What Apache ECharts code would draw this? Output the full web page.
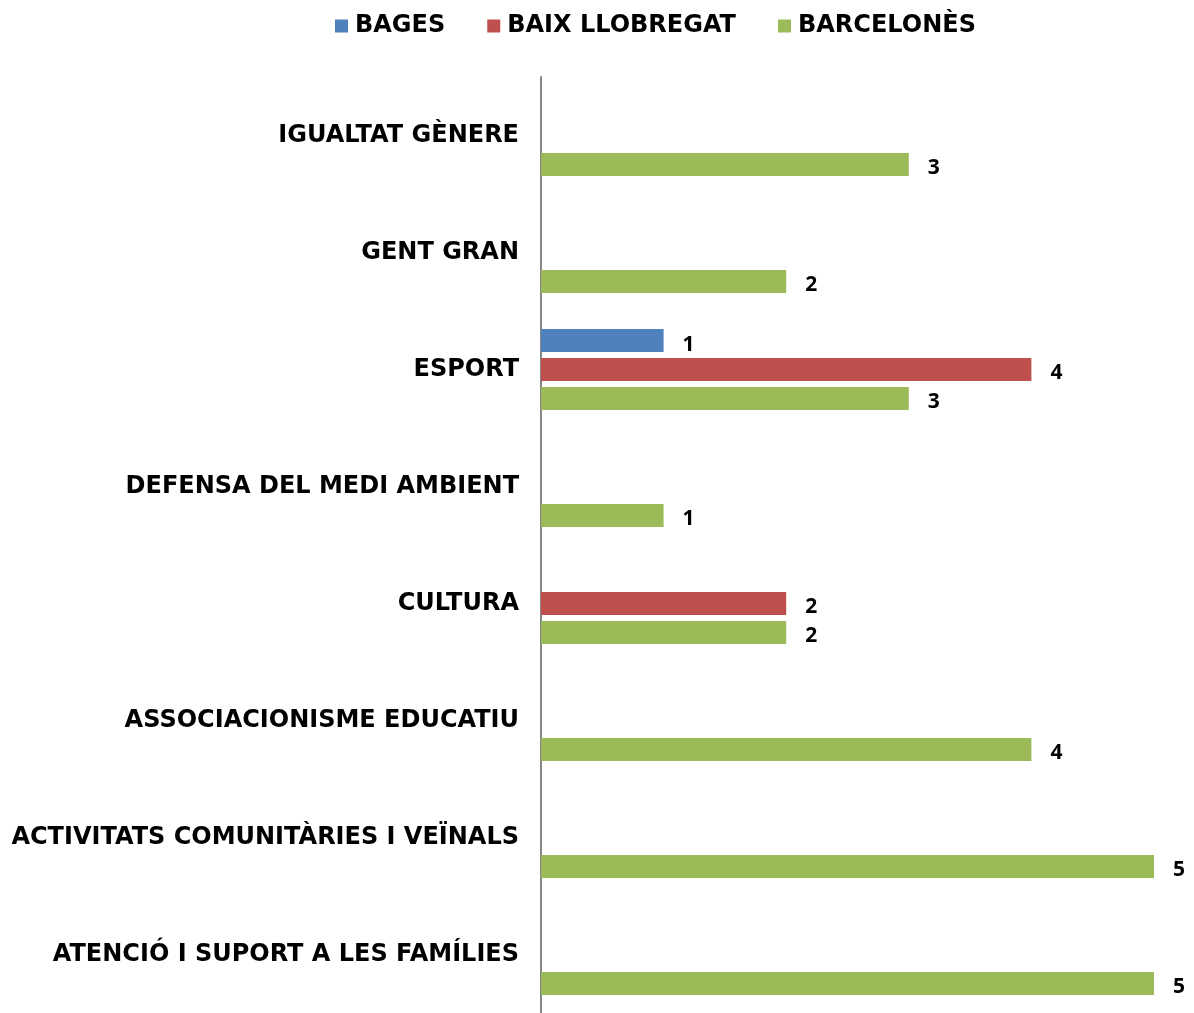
<!DOCTYPE html>
<html>
<head>
<meta charset="utf-8">
<script src="https://cdn.jsdelivr.net/npm/echarts@6/dist/echarts.min.js"></script>
<style>html,body{margin:0;padding:0;background:#fff;}#c{width:1194px;height:1013px;}</style>
</head>
<body>
<div id="c"></div>
<script>
const categories = [
  'IGUALTAT GÈNERE',
  'GENT GRAN',
  'ESPORT',
  'DEFENSA DEL MEDI AMBIENT',
  'CULTURA',
  'ASSOCIACIONISME EDUCATIU',
  'ACTIVITATS COMUNITÀRIES I VEÏNALS',
  'ATENCIÓ I SUPORT A LES FAMÍLIES'
];
const seriesNames = ['BAGES', 'BAIX LLOBREGAT', 'BARCELONÈS'];
const bages = [null, null, 1, null, null, null, null, null];
const baixLlobregat = [null, null, 4, null, 2, null, null, null];
const barcelones = [3, 2, 3, 1, 2, 4, 5, 5];
const colors = ['#4F81BD', '#C0504D', '#9BBB59'];

const chart = echarts.init(document.getElementById('c'), null, {renderer: 'canvas'});
const labelCfg = {
  show: true, position: 'right', distance: 19, offset: [0, 4],
  fontFamily: 'Open Sans', fontWeight: 700, fontSize: 21, color: '#000'
};
const seriesData = [bages, baixLlobregat, barcelones];
chart.setOption({
  animation: false,
  backgroundColor: '#fff',
  color: colors,
  legend: {
    top: 9, left: 330,
    itemWidth: 13, itemHeight: 13, itemGap: 42,
    icon: 'rect',
    textStyle: {fontFamily: 'DejaVu Sans', fontWeight: 'bold', fontSize: 24, color: '#000', padding: [0, 0, 0, 2]},
    data: seriesNames
  },
  grid: {left: 541, top: 77, width: 613, height: 943, containLabel: false},
  xAxis: {
    type: 'value', min: 0, max: 5, interval: 1,
    show: false
  },
  yAxis: {
    type: 'category', inverse: true, data: categories,
    axisLine: {show: true, lineStyle: {color: '#868686', width: 2}},
    axisTick: {show: false},
    axisLabel: {margin: 22, fontFamily: 'DejaVu Sans', fontWeight: 'bold', fontSize: 24, color: '#000', padding: [6, 0, 0, 0]}
  },
  series: seriesNames.map((n, i) => ({
    name: n, type: 'bar', data: seriesData[i],
    barWidth: 23, barGap: '26%',
    itemStyle: {color: colors[i]},
    label: labelCfg
  }))
});
</script>
</body>
</html>
